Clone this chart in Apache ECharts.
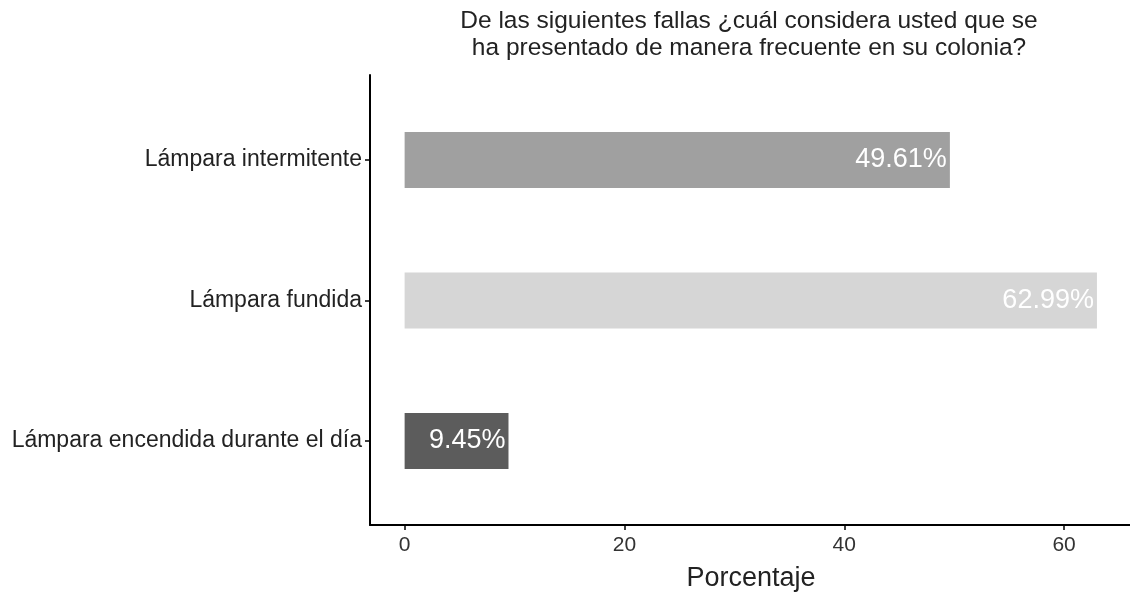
<!DOCTYPE html>
<html>
<head>
<meta charset="utf-8">
<script src="https://cdn.jsdelivr.net/npm/echarts@6/dist/echarts.min.js"></script>
<style>
  html, body { margin: 0; padding: 0; background: #fff; }
  #chart { width: 1130px; height: 593px; }
</style>
</head>
<body>
<div id="chart"></div>
<script>
// datos
const titulo = "De las siguientes fallas ¿cuál considera usted que se\nha presentado de manera frecuente en su colonia?";
const categorias = ["Lámpara intermitente", "Lámpara fundida", "Lámpara encendida durante el día"];
const porcentajes = [49.61, 62.99, 9.45];
const ticksX = [0, 20, 40, 60];

const colores = ["#a0a0a0", "#d6d6d6", "#5c5c5c"];
const fuente = "'Liberation Sans', Arial, sans-serif";

let mychart = echarts.init(document.getElementById("chart"));

const xMin = -3.15, xMax = 66.18;

mychart.setOption({
  backgroundColor: "#fff",
  animation: false,
  title: {
    text: titulo,
    left: 744,
    top: 3,
    textAlign: "center",
    textStyle: {
      fontFamily: fuente,
      fontWeight: "normal",
      fontSize: 24.5,
      lineHeight: 27,
      color: "#222"
    }
  },
  grid: [
    // marco con los ejes
    { left: 370, right: -2, top: 75, bottom: 68, outerBoundsMode: "none", containLabel: false },
    // barras
    { left: 370, right: -2, top: 89.75, bottom: 81.75, outerBoundsMode: "none", containLabel: false }
  ],
  xAxis: [
    {
      gridIndex: 0,
      type: "value",
      min: xMin,
      max: xMax,
      splitLine: { show: false },
      axisLine: { show: true, onZero: false, lineStyle: { color: "#000", width: 2 } },
      axisTick: {
        show: true,
        length: 5,
        customValues: ticksX,
        lineStyle: { color: "#000", width: 1.5 }
      },
      axisLabel: {
        customValues: ticksX,
        fontFamily: fuente,
        fontSize: 21,
        color: "#333",
        margin: 10
      },
      name: "Porcentaje",
      nameLocation: "middle",
      nameGap: 40,
      nameTextStyle: { fontFamily: fuente, fontSize: 27, color: "#222" }
    },
    {
      gridIndex: 1,
      type: "value",
      min: xMin,
      max: xMax,
      show: false
    }
  ],
  yAxis: [
    {
      gridIndex: 0,
      type: "value",
      min: 0,
      max: 1,
      splitLine: { show: false },
      axisLine: { show: true, onZero: false, lineStyle: { color: "#000", width: 2 } },
      axisTick: { show: false },
      axisLabel: { show: false }
    },
    {
      gridIndex: 1,
      type: "category",
      inverse: true,
      data: categorias,
      axisLine: { show: false, onZero: false },
      axisTick: {
        show: true,
        alignWithLabel: true,
        length: 5,
        lineStyle: { color: "#000", width: 1.5 }
      },
      axisLabel: {
        fontFamily: fuente,
        fontSize: 23,
        color: "#222",
        margin: 8
      }
    }
  ],
  series: [
    {
      type: "bar",
      xAxisIndex: 1,
      yAxisIndex: 1,
      barWidth: 56,
      data: porcentajes.map((v, i) => ({
        value: v,
        itemStyle: { color: colores[i] }
      })),
      label: {
        show: true,
        position: "insideRight",
        distance: 3,
        formatter: (p) => p.value.toFixed(2) + "%",
        fontFamily: fuente,
        fontSize: 27,
        color: "#fff"
      }
    }
  ]
});
</script>
</body>
</html>
